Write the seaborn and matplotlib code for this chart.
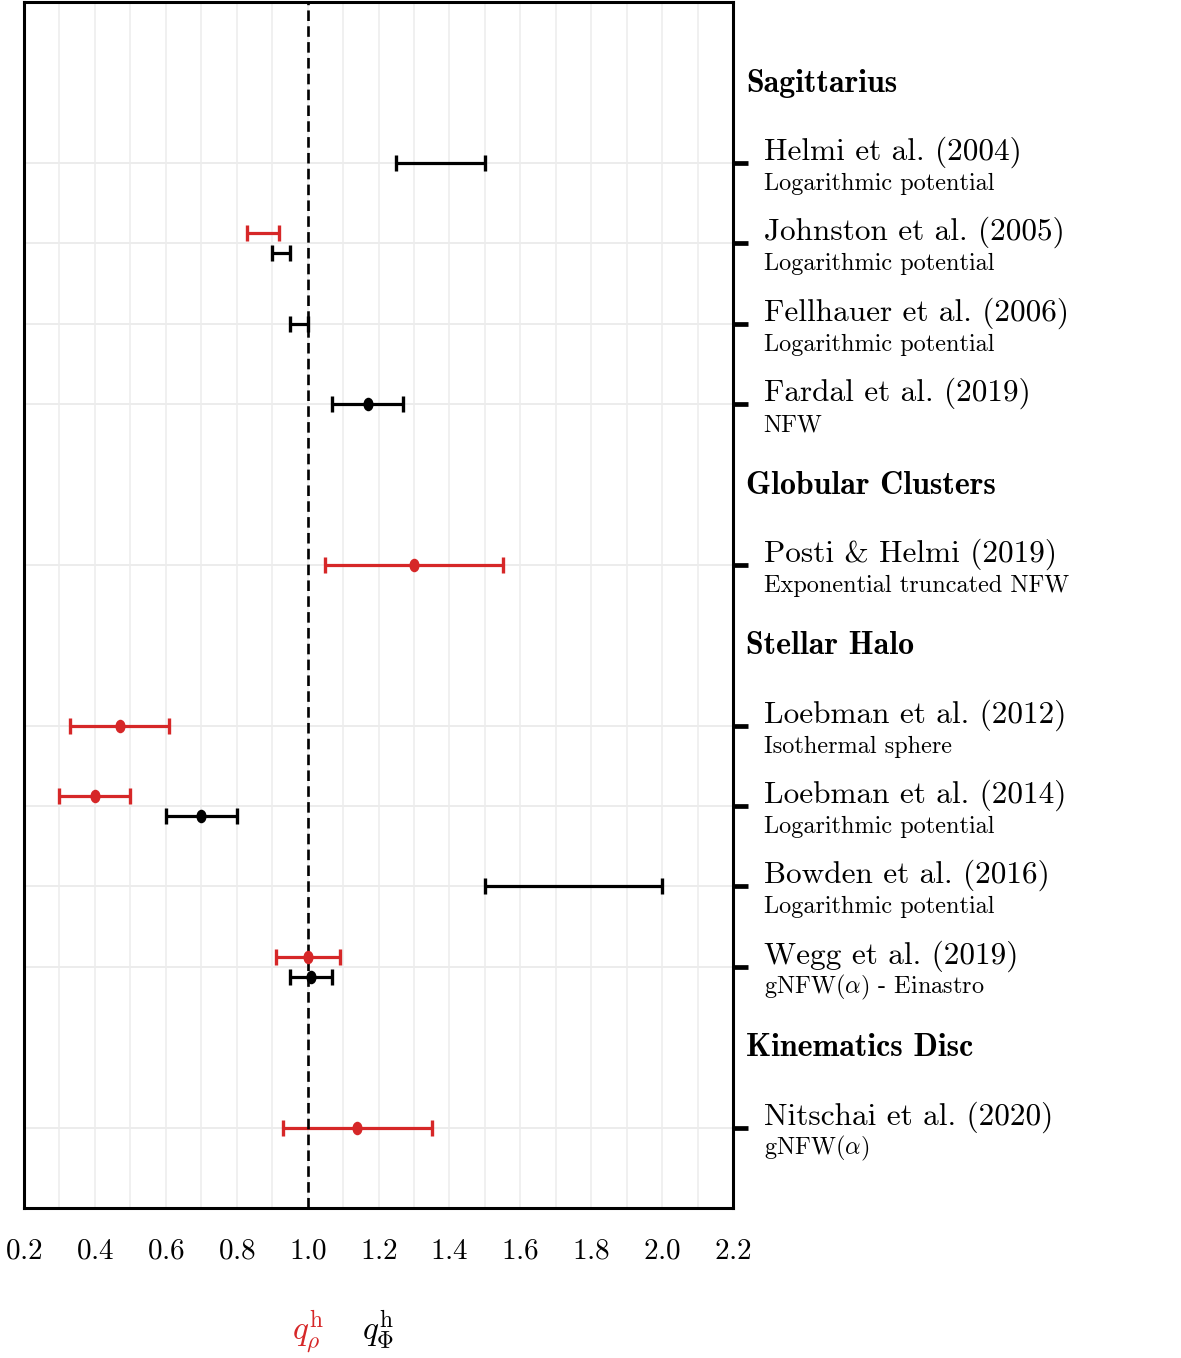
import numpy as np
import pandas as pd
import matplotlib
matplotlib.use("Agg")
import matplotlib.pyplot as plt
import seaborn as sns
from matplotlib.markers import MarkerStyle
from matplotlib.transforms import Affine2D
from matplotlib.ticker import MultipleLocator

# Groups and studies (top to bottom)
groups = ["Sagittarius", "Globular Clusters", "Stellar Halo", "Kinematics Disc"]
study_group = [0, 0, 0, 0, 1, 2, 2, 2, 2, 3]
study_names = [
    "Helmi et al. (2004)",
    "Johnston et al. (2005)",
    "Fellhauer et al. (2006)",
    "Fardal et al. (2019)",
    "Posti & Helmi (2019)",
    "Loebman et al. (2012)",
    "Loebman et al. (2014)",
    "Bowden et al. (2016)",
    "Wegg et al. (2019)",
    "Nitschai et al. (2020)",
]
study_models = [
    "Logarithmic potential",
    "Logarithmic potential",
    "Logarithmic potential",
    "NFW",
    "Exponential truncated NFW",
    "Isothermal sphere",
    "Logarithmic potential",
    "Logarithmic potential",
    r"gNFW($\alpha$) - Einastro",
    r"gNFW($\alpha$)",
]

# density flattening q_rho (red)
rho_study = ["Johnston et al. (2005)", "Posti & Helmi (2019)", "Loebman et al. (2012)",
             "Loebman et al. (2014)", "Wegg et al. (2019)", "Nitschai et al. (2020)"]
rho_center = [np.nan, 1.30, 0.47, 0.40, 1.00, 1.14]
rho_low = [0.83, 1.05, 0.33, 0.30, 0.91, 0.93]
rho_high = [0.92, 1.55, 0.61, 0.50, 1.09, 1.35]

# potential flattening q_Phi (black)
phi_study = ["Helmi et al. (2004)", "Johnston et al. (2005)", "Fellhauer et al. (2006)",
             "Fardal et al. (2019)", "Loebman et al. (2014)", "Bowden et al. (2016)",
             "Wegg et al. (2019)"]
phi_center = [np.nan, np.nan, np.nan, 1.17, 0.70, np.nan, 1.01]
phi_low = [1.25, 0.90, 0.95, 1.07, 0.60, 1.50, 0.95]
phi_high = [1.50, 0.95, 1.00, 1.27, 0.80, 2.00, 1.07]

RED = "#d62728"

# row layout: header row, then one row per study
row_of = {}
header_rows = []
r = 1
for g, gname in enumerate(groups):
    header_rows.append(r)
    r += 1
    for name, sg in zip(study_names, study_group):
        if sg == g:
            row_of[name] = r
            r += 1
n_rows = r

both = set(rho_study) & set(phi_study)


def make_df(names, center, low, high, shift):
    df = pd.DataFrame({"study": names, "center": center, "low": low, "high": high})
    df["y"] = [row_of[s] + (shift if s in both else 0) for s in names]
    df["mid"] = (df["low"] + df["high"]) / 2
    df["half"] = (df["high"] - df["low"]) / 2
    return df


rho = make_df(rho_study, rho_center, rho_low, rho_high, -0.125)
phi = make_df(phi_study, phi_center, phi_low, phi_high, 0.125)

sns.set_style("white")
plt.rcParams["font.family"] = ["cmr10", "DejaVu Serif"]
plt.rcParams["mathtext.fontset"] = "cm"
plt.rcParams["axes.formatter.use_mathtext"] = True
plt.rcParams["text.color"] = "black"
plt.rcParams["xtick.color"] = "black"
plt.rcParams["ytick.color"] = "black"

fig = plt.figure(figsize=(11.81, 13.58), dpi=100)
ax = fig.add_axes([24 / 1181, 1 - 1208 / 1358, 709 / 1181, 1206 / 1358])

for df, col in [(rho, RED), (phi, "black")]:
    ax.errorbar(df["mid"], df["y"], xerr=df["half"], fmt="none", ecolor=col,
                elinewidth=2.3, capsize=5.5, capthick=2.4, zorder=3)

ax.axvline(1.0, color="black", lw=1.9, ls=(0, (4, 2)), zorder=4)

oval = MarkerStyle("o", transform=Affine2D().scale(0.75, 1.0))
for df, col in [(rho, RED), (phi, "black")]:
    pts = df.dropna(subset=["center"])
    sns.scatterplot(data=pts, x="center", y="y", ax=ax, color=col, marker=oval,
                    s=95, linewidth=0, zorder=5, legend=False)

ax.set_xlim(0.2, 2.2)
ax.set_ylim(n_rows, 0)
ax.set_xlabel("")
ax.set_ylabel("")

ax.xaxis.set_major_locator(MultipleLocator(0.2))
ax.xaxis.set_minor_locator(MultipleLocator(0.1))
ax.set_yticks([row_of[s] for s in study_names])
ax.yaxis.tick_right()
ax.set_yticklabels([])

ax.grid(True, which="both", axis="x", color="#ececec", lw=1.1, zorder=0)
ax.grid(True, which="major", axis="y", color="#ececec", lw=1.4, zorder=0)
ax.set_axisbelow(True)

for sp in ax.spines.values():
    sp.set_linewidth(2.2)
    sp.set_color("black")

ax.tick_params(axis="x", which="major", length=14, width=2.8, direction="out",
               labelsize=21, pad=8, color="black")
ax.tick_params(axis="x", which="minor", length=12, width=1.5, direction="out",
               color="black")
ax.tick_params(axis="y", which="major", length=11, width=3.4, direction="out",
               right=True, left=False, color="black")

ytrans = ax.get_yaxis_transform()
for name, model in zip(study_names, study_models):
    y = row_of[name]
    ax.annotate(name, xy=(1, y), xycoords=ytrans, xytext=(22, 2.4),
                textcoords="offset points", ha="left", va="baseline",
                fontsize=22.5, annotation_clip=False)
    ax.annotate(model, xy=(1, y), xycoords=ytrans, xytext=(22, -19.5),
                textcoords="offset points", ha="left", va="baseline",
                fontsize=17.5, annotation_clip=False)

for gname, y in zip(groups, header_rows):
    ax.annotate(gname, xy=(1, y), xycoords=ytrans, xytext=(9.4, -6.6),
                textcoords="offset points", ha="left", va="baseline",
                fontsize=23, family="cmb10", annotation_clip=False)

xtrans = ax.get_xaxis_transform()
ax.text(1.0, -0.1095, r"$q_\rho^\mathrm{h}$", color=RED, fontsize=24,
        ha="center", va="baseline", transform=xtrans)
ax.text(1.2, -0.1095, r"$q_\Phi^\mathrm{h}$", color="black", fontsize=24,
        ha="center", va="baseline", transform=xtrans)

fig.savefig("out.png", dpi=100)
